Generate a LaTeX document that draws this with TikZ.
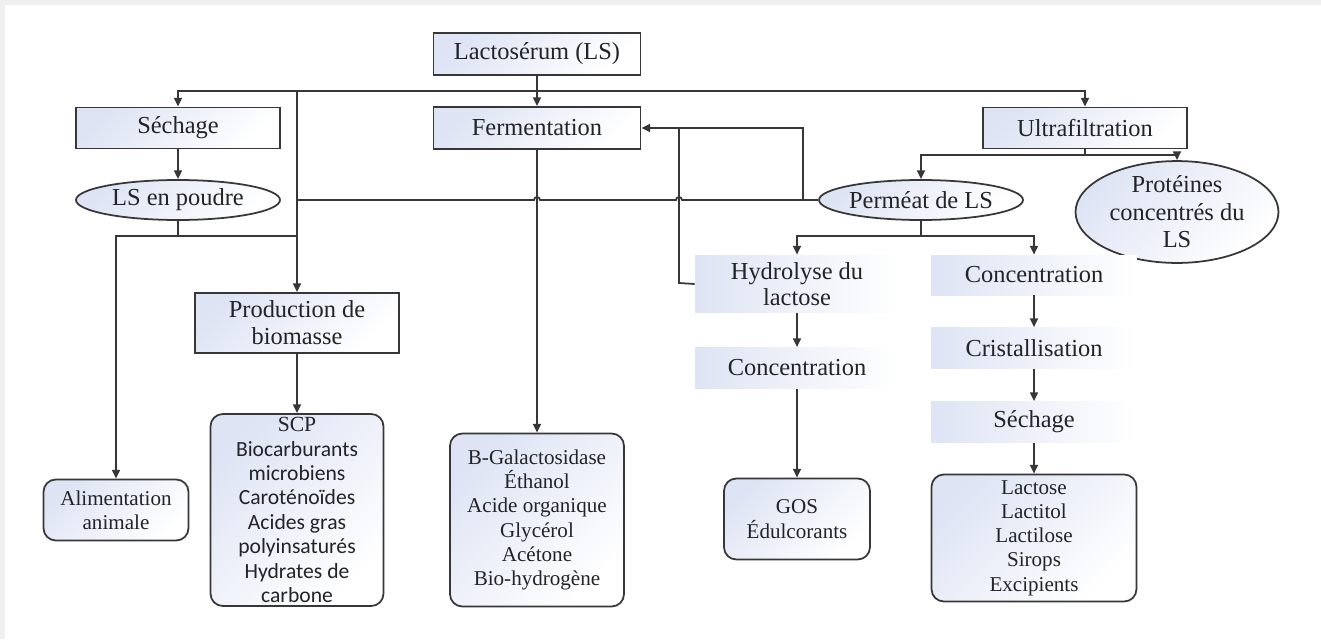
\documentclass[tikz,border=0pt]{standalone}
\usepackage{fontspec}
\setmainfont{Liberation Serif}
\newfontfamily\tms{Liberation Serif}
\newfontfamily\calib{Carlito}
\usetikzlibrary{arrows.meta,shapes.geometric}

\definecolor{boxtint}{RGB}{222,228,244}
\definecolor{wire}{RGB}{55,55,55}
\definecolor{ink}{RGB}{35,35,40}

\tikzset{
  box/.style={draw=wire, line width=1pt, top color=boxtint, bottom color=white,
    shading angle=45, align=center, inner sep=0pt, text=ink,
    font=\tms\fontsize{13.9}{15.5}\selectfont},
  oval/.style={box, ellipse},
  result/.style={box, rounded corners=7pt, font=\tms\fontsize{12}{13.8}\selectfont},
  stage/.style={left color=boxtint, right color=white, align=center,
    inner sep=0pt, text=ink, font=\tms\fontsize{13.9}{15}\selectfont},
  link/.style={draw=wire, line width=1pt}
}

\begin{document}
\begin{tikzpicture}[x=0.02cm, y=-0.02cm, >={Triangle[length=5pt,width=4.5pt]}]
  \useasboundingbox (0,0) rectangle (1321,639);
  \fill[gray!12] (0,0) rectangle (1321,639);
  \fill[white] (5,5) rectangle (1321,639);

  % top level
  \node[box, minimum width=4.14cm, minimum height=0.84cm] (ls) at (537,54) {Lactosérum (LS)};
  \node[box, minimum width=4.08cm, minimum height=0.82cm] (sech) at (178,128) {Séchage};
  \node[box, minimum width=4.14cm, minimum height=0.84cm] (ferm) at (537,128) {Fermentation};
  \node[box, minimum width=4.08cm, minimum height=0.82cm] (ultra) at (1085,128) {Ultrafiltration};

  % second level
  \node[oval, minimum width=4.08cm, minimum height=0.80cm] (poudre) at (178,200) {LS en poudre};
  \node[oval, minimum width=4.08cm, minimum height=0.80cm] (perm) at (921,200) {Perméat de LS};
  \node[oval, minimum width=4.06cm, minimum height=1.66cm, font=\tms\fontsize{13.9}{15.6}\selectfont] (prot) at (1177,212) {Protéines\\concentrés du\\LS};
  \node[box, minimum width=4.08cm, minimum height=1.20cm] (prod) at (297,323) {Production de\\biomasse};

  % permeate branch
  \node[stage, minimum width=4.08cm, minimum height=1.16cm] (hydro) at (797,284) {Hydrolyse du\\lactose};
  \node[stage, minimum width=4.08cm, minimum height=0.82cm] (conc2) at (797,368) {Concentration};
  \node[stage, minimum width=4.12cm, minimum height=0.80cm] (conc1) at (1034,275) {Concentration};
  \node[stage, minimum width=4.12cm, minimum height=0.82cm] (crist) at (1034,348) {Cristallisation};
  \node[stage, minimum width=4.12cm, minimum height=0.82cm] (sech2) at (1034,422) {Séchage};

  % products
  \node[result, minimum width=2.90cm, minimum height=1.22cm] (alim) at (116,510) {Alimentation\\animale};
  \node[result, minimum width=3.46cm, minimum height=3.84cm, font=\calib\fontsize{12.3}{13.9}\selectfont] (scp) at (297,510)
    {\tms SCP\\Biocarburants\\microbiens\\Caroténoïdes\\Acides gras\\polyinsaturés\\Hydrates de\\carbone};
  \node[result, minimum width=3.48cm, minimum height=3.46cm] (fprod) at (537,520)
    {B-Galactosidase\\Éthanol\\Acide organique\\Glycérol\\Acétone\\Bio-hydrogène};
  \node[result, minimum width=2.92cm, minimum height=1.62cm] (gos) at (797,519) {GOS\\Édulcorants};
  \node[result, minimum width=4.10cm, minimum height=2.54cm] (lact) at (1034,538)
    {Lactose\\Lactitol\\Lactilose\\Sirops\\Excipients};

  % junctions
  \coordinate (trunk) at (537,91);
  \coordinate (bio) at (297,91);
  \coordinate (pd) at (178,236);
  \coordinate (pp) at (297,236);
  \coordinate (pl) at (803,200);
  \coordinate (pb) at (297,200);
  \coordinate (hl) at (679,283);
  \coordinate (fj) at (679,128);
  \coordinate (uj) at (1085,155);
  \coordinate (pj) at (921,236);

  \draw[link] (ls) -- (trunk);
  \draw[link,->] (trunk) -- (ferm);
  \draw[link,->] (trunk) -| (sech);
  \draw[link,->] (trunk) -| (ultra);
  \draw[link,->] (bio) -- (prod);
  \draw[link,->] (sech) -- (poudre);
  \draw[link] (poudre) -- (pd) -- (pp);
  \draw[link,->] (pd) -| (alim);
  \draw[link,->] (prod) -- (scp);
  \draw[link,->] (ferm) -- (fprod);

  % permeate to fermentation and biomass
  \draw[link] (perm) -- (pl);
  \draw[link,->] (pl) |- (ferm);
  \draw[link] (pl) -- (682,200) arc (0:-180:3) -- (540,200) arc (0:-180:3) -- (pb);
  \draw[link] (hydro.west) -- (hl) -- (fj);

  \draw[link] (ultra) -- (uj);
  \draw[link,->] (uj) -| (perm);
  \draw[link,->] (uj) -| (prot);
  \draw[link] (perm) -- (pj);
  \draw[link,->] (pj) -| (hydro);
  \draw[link,->] (pj) -| (conc1);
  \draw[link,->] (hydro) -- (conc2);
  \draw[link,->] (conc2) -- (gos);
  \draw[link,->] (conc1) -- (crist);
  \draw[link,->] (crist) -- (sech2);
  \draw[link,->] (sech2) -- (lact);
\end{tikzpicture}
\end{document}
